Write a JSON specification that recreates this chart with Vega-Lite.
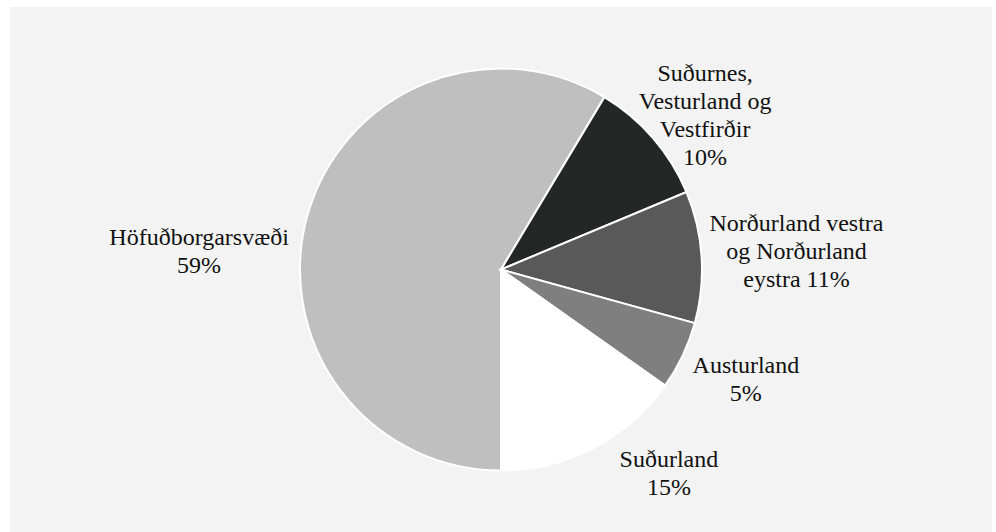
{
  "$schema": "https://vega.github.io/schema/vega-lite/v6.json",
  "autosize": {"type": "none"},
  "width": 982,
  "height": 525,
  "padding": {"left": 10, "top": 7, "right": 4, "bottom": 0},
  "background": "#ffffff",
  "view": {"fill": "#f2f3f2", "stroke": null},
  "data": {
    "values": [
      {"name": "Höfuðborgarsvæði", "value": 58.6, "order": 1, "label": "Höfuðborgarsvæði\n59%"},
      {"name": "Suðurnes, Vesturland og Vestfirðir", "value": 10.1, "order": 2, "label": "Suðurnes,\nVesturland og\nVestfirðir\n10%"},
      {"name": "Norðurland vestra og Norðurland eystra", "value": 10.6, "order": 3, "label": "Norðurland vestra\nog Norðurland\neystra 11%"},
      {"name": "Austurland", "value": 5.5, "order": 4, "label": "Austurland\n5%"},
      {"name": "Suðurland", "value": 15.2, "order": 5, "label": "Suðurland\n15%"}
    ]
  },
  "encoding": {
    "theta": {"field": "value", "type": "quantitative", "stack": true, "scale": {"range": [3.14159265, 9.42477796]}},
    "order": {"field": "order", "type": "quantitative"}
  },
  "layer": [
    {
      "mark": {"type": "arc", "outerRadius": 201, "stroke": "#ffffff", "strokeWidth": 2},
      "encoding": {
        "color": {
          "field": "name", "type": "nominal", "legend": null,
          "scale": {
            "domain": ["Höfuðborgarsvæði", "Suðurnes, Vesturland og Vestfirðir", "Norðurland vestra og Norðurland eystra", "Austurland", "Suðurland"],
            "range": ["#bfbfbf", "#252626", "#595959", "#7f7f7f", "#ffffff"]
          }
        }
      }
    },
    {
      "mark": {"type": "text", "radius": 250, "dx": -61, "dy": 35, "font": "Liberation Serif", "fontSize": 24, "lineHeight": 28, "lineBreak": "\n", "align": "center", "baseline": "middle", "color": "#111111"},
      "encoding": {"text": {"condition": {"test": "datum.order === 1", "field": "label"}, "value": ""}}
    },
    {
      "mark": {"type": "text", "radius": 250, "dx": 15, "dy": -32, "font": "Liberation Serif", "fontSize": 24, "lineHeight": 28, "lineBreak": "\n", "align": "center", "baseline": "middle", "color": "#111111"},
      "encoding": {"text": {"condition": {"test": "datum.order === 2", "field": "label"}, "value": ""}}
    },
    {
      "mark": {"type": "text", "radius": 250, "dx": 46, "dy": -30, "font": "Liberation Serif", "fontSize": 24, "lineHeight": 28, "lineBreak": "\n", "align": "center", "baseline": "middle", "color": "#111111"},
      "encoding": {"text": {"condition": {"test": "datum.order === 3", "field": "label"}, "value": ""}}
    },
    {
      "mark": {"type": "text", "radius": 250, "dx": 19, "dy": -11, "font": "Liberation Serif", "fontSize": 24, "lineHeight": 28, "lineBreak": "\n", "align": "center", "baseline": "middle", "color": "#111111"},
      "encoding": {"text": {"condition": {"test": "datum.order === 4", "field": "label"}, "value": ""}}
    },
    {
      "mark": {"type": "text", "radius": 250, "dx": 53, "dy": -32, "font": "Liberation Serif", "fontSize": 24, "lineHeight": 28, "lineBreak": "\n", "align": "center", "baseline": "middle", "color": "#111111"},
      "encoding": {"text": {"condition": {"test": "datum.order === 5", "field": "label"}, "value": ""}}
    }
  ]
}
